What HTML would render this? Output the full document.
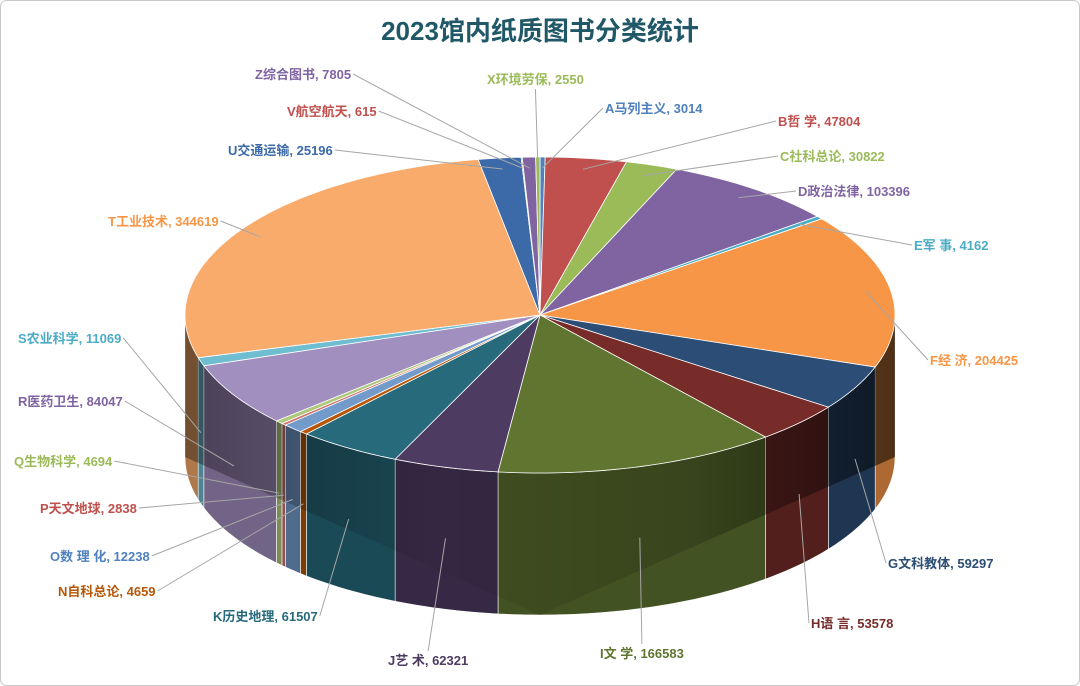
<!DOCTYPE html>
<html><head><meta charset="utf-8"><style>
html,body{margin:0;padding:0;background:#fff;}
svg{display:block;font-family:"Liberation Sans","Noto Sans CJK SC",sans-serif;}
</style></head><body>
<svg id="chart" width="1080" height="686" viewBox="0 0 1080 686">
<defs>
<linearGradient id="sideShade" x1="0" y1="0" x2="1" y2="0">
<stop offset="0" stop-color="#000" stop-opacity="0.35"/>
<stop offset="0.35" stop-color="#000" stop-opacity="0.05"/>
<stop offset="0.7" stop-color="#000" stop-opacity="0.15"/>
<stop offset="1" stop-color="#000" stop-opacity="0.55"/>
</linearGradient>
</defs>
<rect x="0.5" y="0.5" width="1079" height="685" rx="6" fill="#fff" stroke="#c8c8c8"/>
<text x="540" y="40" text-anchor="middle" font-size="26" font-weight="bold" fill="#215867">2023馆内纸质图书分类统计</text>
<g id="sides"></g><g id="tops"></g><g id="labels"></g>
</svg>
<script>
const categories = ["A马列主义","B哲 学","C社科总论","D政治法律","E军 事","F经 济","G文科教体","H语 言","I文 学","J艺 术","K历史地理","N自科总论","O数 理 化","P天文地球","Q生物科学","R医药卫生","S农业科学","T工业技术","U交通运输","V航空航天","Z综合图书","X环境劳保"];
const values = [3014,47804,30822,103396,4162,204425,59297,53578,166583,62321,61507,4659,12238,2838,4694,84047,11069,344619,25196,615,7805,2550];
const colors = ["#4f81bd","#c0504d","#9bbb59","#8064a2","#4bacc6","#f79646","#2c4d75","#772c2a","#5f7530","#4d3b62","#276a7c","#b65708","#729aca","#cd7371","#afc97a","#a18fbf","#6fbdd1","#f9ab6b","#3c6aa8","#c0504d","#8064a2","#9bbb59"];
const labelColors = ["#4f81bd","#c0504d","#9bbb59","#8064a2","#4bacc6","#f79646","#2c4d75","#772c2a","#5f7530","#4d3b62","#276a7c","#b65708","#4f81bd","#c0504d","#9bbb59","#8064a2","#4bacc6","#f79646","#3c6aa8","#c0504d","#8064a2","#9bbb59"];
const labelPos = [[605,108],[778,121],[780,156],[798,191],[914,245],[930,360],[888,563],[811,623],[600,653],[388,660],[213,616],[58,591],[50,556],[40,508],[14,461],[18,401],[18,338],[108,221],[228,150],[287,111],[255,74],[487,79]];
const NS="http://www.w3.org/2000/svg";
const cx=540,cy=315,rx=355,ry=158,depth=142;
const total=values.reduce((a,b)=>a+b,0);
function pt(t,dy){return [cx+rx*Math.sin(t), cy-ry*Math.cos(t)+(dy||0)];}
function shade(hex,f){const n=parseInt(hex.slice(1),16);const r=(n>>16)&255,g=(n>>8)&255,b=n&255;return "rgb("+Math.round(r*f)+","+Math.round(g*f)+","+Math.round(b*f)+")";}
function arcPath(a1,a2,dy){let d="";const steps=Math.max(2,Math.ceil((a2-a1)/0.02));for(let i=0;i<=steps;i++){const p=pt(a1+(a2-a1)*i/steps,dy);d+=(i?"L":"")+p[0].toFixed(2)+","+p[1].toFixed(2);}return d;}
const sides=document.getElementById("sides"),tops=document.getElementById("tops"),labels=document.getElementById("labels");
let acc=0;const mids=[];
values.forEach((v,i)=>{
  const a1=acc/total*2*Math.PI,a2=(acc+v)/total*2*Math.PI;acc+=v;mids.push((a1+a2)/2);
  const s=Math.max(a1,Math.PI/2),e=Math.min(a2,Math.PI*1.5);
  if(e>s){
    const p=document.createElementNS(NS,"path");
    let d="M"+arcPath(s,e,0);
    const steps=Math.max(2,Math.ceil((e-s)/0.02));
    for(let k=steps;k>=0;k--){const q=pt(s+(e-s)*k/steps,depth);d+="L"+q[0].toFixed(2)+","+q[1].toFixed(2);}
    p.setAttribute("d",d+"Z");p.setAttribute("fill",shade(colors[i],0.7));
    p.setAttribute("stroke","#fff");p.setAttribute("stroke-width","0.6");
    
    
    sides.appendChild(p);
  }
  const t=document.createElementNS(NS,"path");
  t.setAttribute("d","M"+cx+","+cy+"L"+arcPath(a1,a2,0)+"Z");
  t.setAttribute("fill",colors[i]);t.setAttribute("stroke","#fff");t.setAttribute("stroke-width","0.8");
  
  
  tops.appendChild(t);
});
const sh=document.createElementNS(NS,"path");
sh.setAttribute("d","M"+arcPath(Math.PI/2,Math.PI*1.5,0)+"L"+arcPath(Math.PI*1.5,Math.PI/2,depth).replace(/^/,"")+"Z");
sh.setAttribute("fill","url(#sideShade)");


sides.appendChild(sh);
values.forEach((v,i)=>{
  const tx=document.createElementNS(NS,"text");
  tx.setAttribute("x",labelPos[i][0]);tx.setAttribute("y",labelPos[i][1]+5);
  tx.setAttribute("font-size","13");tx.setAttribute("font-weight","bold");tx.setAttribute("fill",labelColors[i]);
  tx.textContent=categories[i]+", "+v;
  
  
  labels.appendChild(tx);
  const w=tx.getComputedTextLength();
  const m=mids[i];
  let end=[cx+rx*0.93*Math.sin(m),cy-ry*0.93*Math.cos(m)];
  if(Math.cos(m)<-0.2){end=pt(m,depth*0.5);}
  const lx=labelPos[i][0],ly=labelPos[i][1];
  let sx;
  if(end[0]<lx) sx=lx-2; else if(end[0]>lx+w) sx=lx+w+2; else sx=lx+w/2;
  let sy=ly;
  if(end[0]>=lx&&end[0]<=lx+w){sy=end[1]>ly?ly+10:ly-9;}
  const ln=document.createElementNS(NS,"line");
  ln.setAttribute("x1",sx);ln.setAttribute("y1",sy);ln.setAttribute("x2",end[0]);ln.setAttribute("y2",end[1]);
  ln.setAttribute("stroke","#a6a6a6");ln.setAttribute("stroke-width","1");
  
  
  labels.insertBefore(ln,labels.firstChild);
});
</script>
</body></html>
